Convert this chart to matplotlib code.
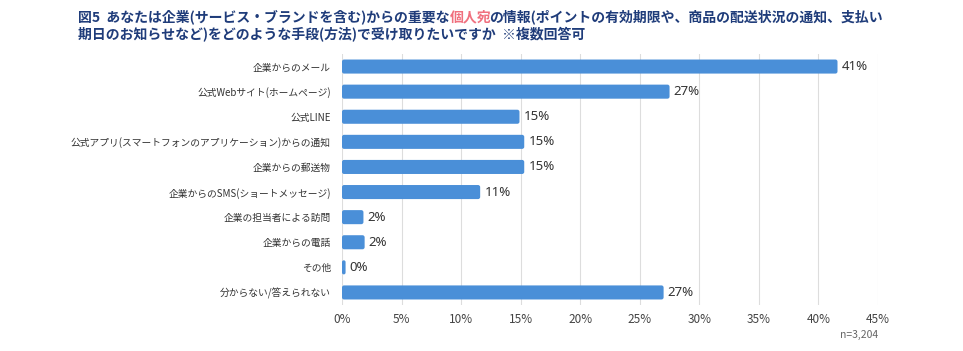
import matplotlib
matplotlib.use("Agg")
import matplotlib.pyplot as plt
from matplotlib.patches import FancyBboxPatch

plt.rcParams['font.family'] = ['Noto Sans CJK JP', 'DejaVu Sans']

categories = ["企業からのメール", "公式Webサイト(ホームページ)", "公式LINE",
              "公式アプリ(スマートフォンのアプリケーション)からの通知", "企業からの郵送物",
              "企業からのSMS(ショートメッセージ)", "企業の担当者による訪問", "企業からの電話",
              "その他", "分からない/答えられない"]
values = [41.6, 27.5, 14.9, 15.3, 15.3, 11.6, 1.8, 1.9, 0.3, 27.0]
value_labels = ["41%", "27%", "15%", "15%", "15%", "11%", "2%", "2%", "0%", "27%"]
xticks = [0, 5, 10, 15, 20, 25, 30, 35, 40, 45]
xticklabels = [f"{t}%" for t in xticks]

title1_a = "図5  あなたは企業(サービス・ブランドを含む)からの重要な"
title1_b = "個人宛"
title1_c = "の情報(ポイントの有効期限や、商品の配送状況の通知、支払い"
title2 = "期日のお知らせなど)をどのような手段(方法)で受け取りたいですか  ※複数回答可"

W, H = 963, 351
fig = plt.figure(figsize=(W/100, H/100), dpi=100)
ax = fig.add_axes([342/W, 1-305/H, (878-342)/W, (305-54)/H])

bar_color = "#4A8FD8"
y = list(range(len(categories)))
bars = ax.barh(y, values, height=0.56, color=bar_color, zorder=3)
ax.set_ylim(len(categories)-0.5, -0.5)
ax.set_xlim(0, 45)

# rounded ends: replace rectangles with rounded boxes
px_per_x = (878-342) / 45.0
px_per_y = (305-54) / len(categories)
aspect = px_per_x / px_per_y
for b in bars:
    x, yb, w, h = b.get_x(), b.get_y(), b.get_width(), b.get_height()
    b.set_visible(False)
    rs = min(0.18, w / 2)
    p = FancyBboxPatch((x, yb), w, h, boxstyle=f"round,pad=0,rounding_size={rs}",
                       mutation_aspect=aspect, facecolor=bar_color, edgecolor='none', zorder=3)
    ax.add_patch(p)

ax.set_xticks(xticks)
ax.set_xticklabels(xticklabels, fontsize=8.5, color="#444444")
ax.set_yticks(y)
ax.set_yticklabels(categories, fontsize=7, color="#333333")
ax.tick_params(axis='both', length=0)
ax.tick_params(axis='y', pad=8)
ax.tick_params(axis='x', pad=6)
ax.grid(axis='x', color="#dddddd", linewidth=0.8, zorder=0)
for s in ax.spines.values():
    s.set_visible(False)

for i, (v, lab) in enumerate(zip(values, value_labels)):
    bold = i < 2
    ax.text(v + 0.35, i, lab, va='center', ha='left', fontsize=9.5,
            color="#333333", fontweight='bold' if bold else 'normal',
            family=['Noto Sans', 'DejaVu Sans'])

fig.text(878/W, 1-335/H, "n=3,204", ha='right', va='center', fontsize=7.5, color="#666666")

# Title with colored segment
navy = "#1F3C7A"
pink = "#F0707E"
fs = 10
fig.canvas.draw()
r = fig.canvas.get_renderer()
x0 = 78/W
y1 = 1-17/H
y2 = 1-35/H
t = fig.text(x0, y1, title1_a, fontsize=fs, fontweight='bold', color=navy, va='center')
bb = t.get_window_extent(r)
t2 = fig.text(bb.x1 / W, y1, title1_b, fontsize=fs, fontweight='bold', color=pink, va='center')
bb2 = t2.get_window_extent(r)
fig.text((bb2.x1 - 2) / W, y1, title1_c, fontsize=fs, fontweight='bold', color=navy, va='center')
fig.text(x0, y2, title2, fontsize=fs, fontweight='bold', color=navy, va='center')

fig.savefig("out.png", dpi=100)
